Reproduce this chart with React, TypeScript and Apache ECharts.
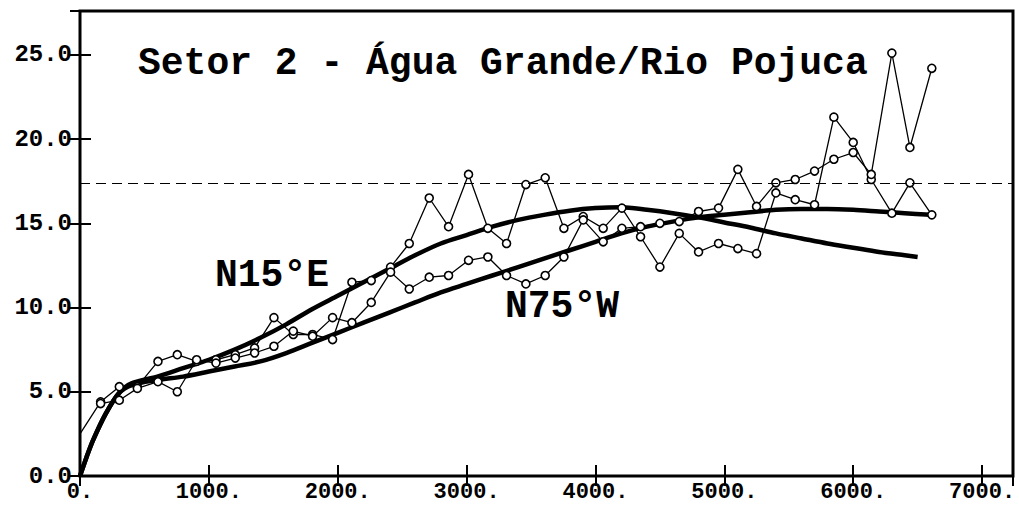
import React, { useEffect, useRef } from "react";
import * as echarts from "echarts";

const lags = [160, 305, 445, 605, 755, 905, 1055, 1205, 1355, 1505, 1655, 1805, 1960, 2110, 2260, 2410, 2555, 2710, 2860, 3015, 3165, 3310, 3460, 3610, 3755, 3905, 4060, 4205, 4350, 4500, 4650, 4800, 4955, 5105, 5250, 5400, 5550, 5700, 5850, 6000, 6140, 6300, 6440, 6610];

const expA = [4.4, 5.3, 5.3, 6.8, 7.2, 6.8, 6.9, 7.2, 7.6, 9.4, 8.4, 8.4, 8.1, 11.5, 11.6, 12.4, 13.8, 16.5, 14.8, 17.9, 14.7, 13.8, 17.3, 17.7, 14.7, 15.4, 14.7, 15.9, 14.2, 12.4, 14.4, 13.3, 13.8, 13.5, 13.2, 16.8, 16.4, 16.1, 21.3, 19.8, 17.6, 15.6, 17.4, 15.5];

const expB = [4.3, 4.5, 5.2, 5.6, 5.0, 6.9, 6.7, 7.0, 7.3, 7.7, 8.6, 8.3, 9.4, 9.1, 10.3, 12.1, 11.1, 11.8, 11.9, 12.8, 13.0, 11.9, 11.4, 11.9, 13.0, 15.2, 13.9, 14.7, 14.8, 15.0, 15.1, 15.7, 15.9, 18.2, 16.0, 17.4, 17.6, 18.1, 18.8, 19.2, 17.9, 25.1, 19.5, 24.2];

const nuggetStart = [0, 2.5];

const modelAx = [0, 50, 100, 200, 300, 400, 600, 800, 1000, 1200, 1400, 1600, 1800, 2000, 2200, 2400, 2600, 2800, 3000, 3200, 3400, 3600, 3800, 4000, 4200, 4400, 4600, 4800, 5000, 5200, 5400, 5600, 5800, 6000, 6200, 6400, 6500];
const modelAy = [0, 1.1, 2.1, 3.7, 4.9, 5.5, 5.9, 6.4, 6.9, 7.5, 8.2, 9.0, 9.9, 10.7, 11.5, 12.3, 13.1, 13.8, 14.3, 14.8, 15.2, 15.5, 15.75, 15.9, 15.95, 15.8, 15.6, 15.35, 15.05, 14.75, 14.4, 14.1, 13.8, 13.55, 13.3, 13.1, 13.0];

const modelBx = [0, 50, 100, 200, 300, 400, 600, 800, 1000, 1200, 1400, 1600, 1800, 2000, 2200, 2400, 2600, 2800, 3000, 3200, 3400, 3600, 3800, 4000, 4200, 4400, 4600, 4800, 5000, 5200, 5400, 5600, 5800, 6000, 6200, 6400, 6600];
const modelBy = [0, 1.1, 2.1, 3.7, 4.9, 5.4, 5.7, 5.9, 6.2, 6.5, 6.8, 7.3, 7.9, 8.5, 9.1, 9.7, 10.3, 10.9, 11.4, 11.9, 12.4, 12.9, 13.4, 13.9, 14.4, 14.8, 15.1, 15.35, 15.5, 15.65, 15.8, 15.85, 15.85, 15.8, 15.7, 15.6, 15.5];

const sill = 17.4;
const xMax = 7240;
const yMax = 27.6;
const title = "Setor 2 - Água Grande/Rio Pojuca";
const labelA = "N15°E";
const labelB = "N75°W";

const FONT = '"Liberation Mono", "DejaVu Sans Mono", monospace';

export default function App() {
  const ref = useRef<HTMLDivElement>(null);
  useEffect(() => {
    if (!ref.current) return;
    const chart = echarts.init(ref.current, null, { renderer: "svg" });
    const pts = (xs: number[], ys: number[]) => xs.map((x, i) => [x, ys[i]]);
    const markerStyle = { color: "#fff", borderColor: "#000", borderWidth: 1.6 };
    const axisCommon = {
      type: "value",
      min: 0,
      splitLine: { show: false },
      axisLine: { show: false },
    };
    chart.setOption({
      animation: false,
      backgroundColor: "#fff",
      grid: {
        left: 80,
        right: 6,
        top: 11,
        bottom: 33,
        show: true,
        borderColor: "#000",
        borderWidth: 3,
        backgroundColor: "transparent",
      },
      xAxis: [
        {
          ...axisCommon,
          max: xMax,
          interval: 1000,
          position: "bottom",
          axisTick: { show: true, inside: true, length: 11, lineStyle: { color: "#000", width: 2 } },
          axisLabel: {
            margin: 5,
            color: "#000",
            fontFamily: FONT,
            fontWeight: "bold",
            fontSize: 22,
            formatter: (v: number) => (v % 1000 === 0 ? `${v}.` : ""),
          },
        },
        {
          ...axisCommon,
          max: xMax,
          interval: 1000,
          position: "top",
          axisTick: { show: true, inside: true, length: 10, lineStyle: { color: "#000", width: 2 } },
          axisLabel: { show: false },
        },
      ],
      yAxis: [
        {
          ...axisCommon,
          max: yMax,
          interval: 5,
          position: "left",
          axisTick: { show: true, inside: true, length: 11, lineStyle: { color: "#000", width: 2 } },
          axisLabel: {
            margin: 8,
            color: "#000",
            fontFamily: FONT,
            fontWeight: "bold",
            fontSize: 24,
            formatter: (v: number) => (v % 5 === 0 ? v.toFixed(1) : ""),
          },
        },
        {
          ...axisCommon,
          max: yMax,
          interval: 5,
          position: "right",
          axisTick: { show: true, inside: true, length: 10, lineStyle: { color: "#000", width: 2 } },
          axisLabel: { show: false },
        },
      ],
      series: [
        {
          type: "line",
          data: pts(modelAx, modelAy),
          smooth: 0.3,
          showSymbol: false,
          lineStyle: { color: "#000", width: 4.5 },
          z: 3,
        },
        {
          type: "line",
          data: pts(modelBx, modelBy),
          smooth: 0.3,
          showSymbol: false,
          lineStyle: { color: "#000", width: 4.5 },
          z: 3,
        },
        {
          type: "line",
          data: [{ value: nuggetStart, symbol: "none" }, ...pts(lags, expA)],
          symbol: "circle",
          symbolSize: 8,
          itemStyle: markerStyle,
          lineStyle: { color: "#000", width: 1.3 },
          z: 4,
          markLine: {
            silent: true,
            symbol: "none",
            label: { show: false },
            lineStyle: { color: "#000", width: 1.2, type: [10, 6] },
            data: [{ yAxis: sill }],
          },
        },
        {
          type: "line",
          data: pts(lags, expB),
          symbol: "circle",
          symbolSize: 8,
          itemStyle: markerStyle,
          lineStyle: { color: "#000", width: 1.3 },
          z: 4,
        },
      ],
      graphic: [
        {
          type: "text",
          x: 138,
          y: 63,
          z: 10,
          style: { text: title, fontFamily: FONT, fontWeight: "bold", fontSize: 38, fill: "#000", align: "left", verticalAlign: "middle" },
        },
        {
          type: "text",
          x: 215,
          y: 275,
          z: 10,
          style: { text: labelA, fontFamily: FONT, fontWeight: "bold", fontSize: 38, fill: "#000", align: "left", verticalAlign: "middle" },
        },
        {
          type: "text",
          x: 505,
          y: 306,
          z: 10,
          style: { text: labelB, fontFamily: FONT, fontWeight: "bold", fontSize: 38, fill: "#000", align: "left", verticalAlign: "middle" },
        },
      ],
    });
    return () => chart.dispose();
  }, []);
  return (
    <div
      ref={ref}
      style={{ position: "fixed", left: 0, top: 0, width: 1019, height: 509, background: "#fff" }}
    />
  );
}
